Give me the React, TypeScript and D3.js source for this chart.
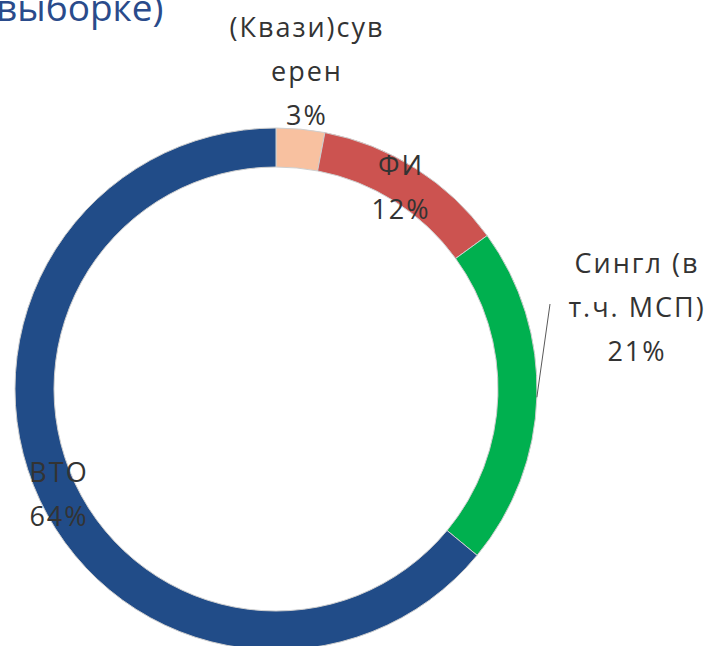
import React, { useEffect, useRef } from 'react';
import * as d3 from 'd3';

// slices, clockwise from 12 o'clock
const categories = ['(Квази)суверен', 'ФИ', 'Сингл (в т.ч. МСП)', 'ВТО'];
const shares = [3, 12, 21, 64];
const labelLines = [
  ['(Квази)сув', 'ерен', '3%'],
  ['ФИ', '12%'],
  ['Сингл (в', 'т.ч. МСП)', '21%'],
  ['ВТО', '64%'],
];
const sliceColors = ['#F8C1A0', '#CC5350', '#00B04F', '#214C88'];
const titleText = 'выборке)';

// label placement (center x, first baseline), kept apart from the data
const labelLayout = [
  { x: 307, y: 37 },
  { x: 401, y: 175 },
  { x: 637, y: 273 },
  { x: 59, y: 482 },
];

export default function App() {
  const ref = useRef<SVGSVGElement | null>(null);

  useEffect(() => {
    const svg = d3.select(ref.current);
    svg.selectAll('*').remove();

    const width = 712;
    const height = 646;
    const cx = 276;
    const cy = 389;
    const outerR = 261;
    const innerR = 222;

    svg.attr('width', width).attr('height', height);

    // title fragment cut at the top
    svg.append('text')
      .attr('x', -4)
      .attr('y', 21)
      .attr('font-family', 'Open Sans, sans-serif')
      .attr('font-size', 37)
      .attr('fill', '#2A4B8B')
      .text(titleText);

    const data = categories.map((c, i) => ({ name: c, value: shares[i], i }));

    const pie = d3.pie<any>()
      .sort(null)
      .value(d => d.value)
      .startAngle(0)
      .endAngle(2 * Math.PI);

    const arc = d3.arc<any>()
      .innerRadius(innerR)
      .outerRadius(outerR);

    const g = svg.append('g').attr('transform', `translate(${cx},${cy})`);
    const arcs = pie(data);

    g.selectAll('path.slice')
      .data(arcs)
      .enter()
      .append('path')
      .attr('class', 'slice')
      .attr('d', arc as any)
      .attr('fill', d => sliceColors[d.data.i])
      .attr('stroke', '#cfcfcf')
      .attr('stroke-width', 1);

    // leader line for the green slice
    const green = arcs[2];
    const mid = (green.startAngle + green.endAngle) / 2;
    const ex = cx + outerR * Math.sin(mid);
    const ey = cy - outerR * Math.cos(mid);
    svg.append('line')
      .attr('x1', 550)
      .attr('y1', 304)
      .attr('x2', ex)
      .attr('y2', ey)
      .attr('stroke', '#595959')
      .attr('stroke-width', 1);

    // labels
    labelLines.forEach((lines, i) => {
      const pos = labelLayout[i];
      const t = svg.append('text')
        .attr('font-family', 'Open Sans, sans-serif')
        .attr('font-size', 27)
        .attr('letter-spacing', 2)
        .attr('fill', '#333333')
        .attr('text-anchor', 'middle');
      lines.forEach((line, k) => {
        t.append('tspan')
          .attr('x', pos.x)
          .attr('y', pos.y + k * 44)
          .text(line);
      });
    });
  }, []);

  return (
    <svg
      ref={ref}
      style={{ position: 'absolute', left: 0, top: 0, background: '#fff' }}
    />
  );
}
